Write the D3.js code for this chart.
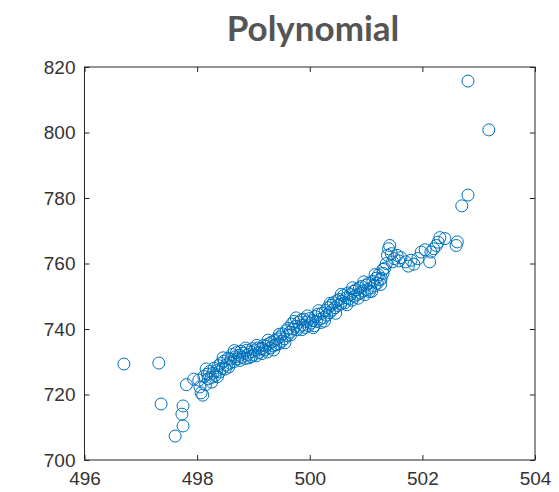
<!DOCTYPE html>
<html>
<head>
<meta charset="utf-8">
<script src="https://cdn.jsdelivr.net/npm/d3@7"></script>
<style>
  body { margin: 0; background: #fff; }
  svg { display: block; }
</style>
</head>
<body>
<div id="chart"></div>
<script>
"use strict";

// outliers on the left
const leftX = [496.70, 497.32, 497.36, 497.61, 497.75, 497.73, 497.75, 497.81, 497.94, 498.03, 498.07, 498.10, 498.05];
const leftY = [729.3, 729.6, 717.1, 707.3, 710.4, 714.0, 716.5, 723.0, 724.7, 724.4, 720.5, 719.8, 722.3];

// main band
const bandX = [
    498.12, 498.15, 498.18, 498.20, 498.22, 498.25, 498.28, 498.30, 498.32, 498.35,
    498.38, 498.40, 498.42, 498.45, 498.48, 498.50, 498.52, 498.55, 498.58, 498.60,
    498.62, 498.65, 498.68, 498.70, 498.72, 498.75, 498.78, 498.80, 498.82, 498.85,
    498.88, 498.90, 498.92, 498.95, 498.98, 499.00, 499.02, 499.05, 499.08, 499.10,
    499.12, 499.15, 499.18, 499.20, 499.22, 499.25, 499.28, 499.30, 499.32, 499.35,
    499.38, 499.40, 499.42, 499.45, 499.48, 499.50, 499.52, 499.55, 499.58, 499.60,
    499.62, 499.65, 499.68, 499.70, 499.72, 499.75, 499.78, 499.80, 499.82, 499.85,
    499.88, 499.90, 499.92, 499.95, 499.98, 500.00, 500.02, 500.05, 500.08, 500.10,
    500.12, 500.15, 500.18, 500.20, 500.22, 500.25, 500.28, 500.30, 500.32, 500.35,
    500.38, 500.40, 500.42, 500.45, 500.48, 500.50, 500.52, 500.55, 500.58, 500.60,
    500.62, 500.65, 500.68, 500.70, 500.72, 500.75, 500.78, 500.80, 500.82, 500.85,
    500.88, 500.90, 500.92, 500.95, 500.98, 501.00, 501.02, 501.05, 501.08, 501.10,
    501.12, 501.15, 501.18, 501.20, 501.22, 501.25,
    498.16, 498.26, 498.36, 498.46, 498.56, 498.66, 498.76, 498.86, 498.96, 499.06,
    499.16, 499.26, 499.36, 499.46, 499.56, 499.66, 499.76, 499.86, 499.96, 500.06,
    500.16, 500.26, 500.36, 500.46, 500.56, 500.66, 500.76, 500.86, 500.96, 501.06,
    501.16, 501.26, 501.30
];
const bandY = [
    725.5, 723.0, 726.2, 724.8, 727.0, 725.2, 726.5, 728.0, 725.8, 727.3,
    728.8, 726.9, 729.5, 728.0, 730.2, 727.8, 729.0, 731.0, 729.6, 730.8,
    732.2, 730.0, 731.5, 732.8, 730.9, 732.0, 733.2, 731.4, 732.6, 731.0,
    733.5, 732.2, 731.2, 733.0, 734.0, 732.0, 733.4, 731.8, 734.2, 732.8,
    733.9, 732.5, 735.0, 733.6, 734.8, 733.0, 735.5, 734.2, 736.0, 734.8,
    736.5, 735.2, 737.0, 735.5, 737.6, 736.2, 738.5, 737.0, 739.5, 738.0,
    740.2, 739.0, 741.5, 740.0, 742.3, 740.8, 739.8, 742.0, 740.6, 742.8,
    741.2, 743.0, 740.5, 742.2, 741.0, 743.2, 741.8, 742.6, 741.0, 743.8,
    742.3, 744.5, 743.0, 742.0, 744.8, 743.5, 745.6, 744.2, 746.5, 745.0,
    747.2, 745.8, 748.0, 746.5, 748.6, 747.2, 749.0, 747.6, 748.5, 750.2,
    748.0, 749.5, 751.0, 749.2, 750.5, 748.8, 751.5, 750.0, 752.0, 750.6,
    752.5, 751.0, 753.0, 751.6, 750.5, 753.4, 752.0, 754.0, 752.5, 751.5,
    754.5, 753.2, 755.5, 754.0, 756.5, 755.0,
    727.8, 723.8, 725.4, 731.2, 728.4, 733.4, 730.4, 734.2, 731.6, 735.0,
    734.0, 736.6, 733.6, 738.4, 735.8, 738.2, 743.4, 739.8, 744.0, 740.4,
    745.6, 742.4, 747.8, 744.8, 750.6, 747.4, 752.6, 749.4, 754.4, 751.4,
    756.6, 753.6, 758.2
];

// upper right part and outliers
const rightX = [502.81, 503.18, 502.81, 502.70, 502.60, 502.62, 502.31, 502.40, 502.28, 502.15,
    502.13, 502.05, 501.98, 501.92, 501.85, 501.80, 501.75, 501.70, 501.62, 501.55,
    501.58, 501.50, 501.45, 501.40, 501.42, 501.38, 501.36, 501.33, 501.30, 501.27,
    501.47, 502.20, 502.25];
const rightY = [815.7, 800.8, 780.9, 777.6, 765.5, 766.6, 767.9, 767.6, 766.5, 763.5,
    760.5, 764.2, 763.5, 761.5, 759.8, 761.0, 759.2, 760.5, 761.8, 762.5,
    760.8, 761.5, 763.0, 764.5, 765.5, 762.5, 760.0, 758.5, 757.0, 755.5,
    760.5, 764.5, 765.5];

const xTicks = [496, 498, 500, 502, 504];
const yTicks = [700, 720, 740, 760, 780, 800, 820];
const titleText = "Polynomial";

const allX = leftX.concat(bandX, rightX);
const allY = leftY.concat(bandY, rightY);
const points = allX.map(function(v, i) { return [v, allY[i]]; });

const W = 559, H = 492;
const margin = {top: 67, right: 24, bottom: 32, left: 84.5};
const width = W - margin.left - margin.right,
    height = H - margin.top - margin.bottom;

const svg = d3.select("#chart").append("svg")
    .attr("width", W)
    .attr("height", H);

const g = svg.append("g")
    .attr("transform", "translate(" + margin.left + "," + margin.top + ")");

const x = d3.scaleLinear().domain([496, 504]).range([0, width]);
const y = d3.scaleLinear().domain([700, 820]).range([height, 0]);

const axisColor = "#262626";
const tickFont = "'Liberation Sans', Arial, sans-serif";

// box
g.append("rect")
    .attr("x", 0).attr("y", 0)
    .attr("width", width).attr("height", height)
    .attr("fill", "none")
    .attr("stroke", axisColor)
    .attr("stroke-width", 1);

function styleAxis(sel) {
    sel.select(".domain").remove();
    sel.selectAll(".tick line").attr("stroke", axisColor);
    sel.selectAll(".tick text")
        .attr("fill", "#333333")
        .attr("font-family", tickFont)
        .attr("font-size", 19);
}

g.append("g")
    .attr("transform", "translate(0," + height + ")")
    .call(d3.axisBottom(x).tickValues(xTicks).tickSizeInner(-5).tickPadding(12))
    .call(styleAxis);

g.append("g")
    .call(d3.axisTop(x).tickValues(xTicks).tickSizeInner(-5).tickFormat(""))
    .call(styleAxis);

g.append("g")
    .call(d3.axisLeft(y).tickValues(yTicks).tickSizeInner(-5).tickPadding(9))
    .call(styleAxis);

g.append("g")
    .attr("transform", "translate(" + width + ",0)")
    .call(d3.axisRight(y).tickValues(yTicks).tickSizeInner(-5).tickFormat(""))
    .call(styleAxis);

// markers
g.append("g")
    .selectAll("circle")
    .data(points)
    .join("circle")
    .attr("cx", function(d) { return x(d[0]); })
    .attr("cy", function(d) { return y(d[1]); })
    .attr("r", 6)
    .attr("fill", "none")
    .attr("stroke", "#0072BD")
    .attr("stroke-width", 1);

// title
svg.append("text")
    .attr("x", 313)
    .attr("y", 41)
    .attr("text-anchor", "middle")
    .attr("font-family", "Lato, sans-serif")
    .attr("font-weight", "bold")
    .attr("font-size", 35)
    .attr("fill", "#555555")
    .text(titleText);
</script>
</body>
</html>
